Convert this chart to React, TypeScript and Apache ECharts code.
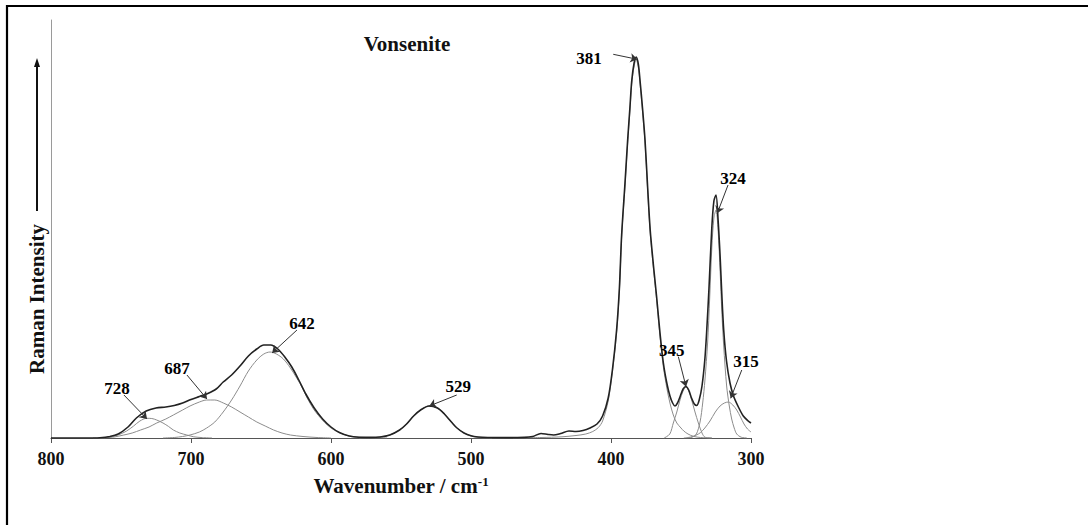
import React, { useEffect, useRef } from "react";
import * as echarts from "echarts";

const FONT = '"Liberation Serif", "Times New Roman", serif';

// x: wavenumber / cm-1, y: intensity (arbitrary units)
const envelope: [number, number][] = [
  [800, 0], [775, 0], [765, 0.3], [758, 1.5], [752, 4], [745, 11], [739, 20], [732, 27], [725, 30], [718, 31],
  [712, 32.5], [706, 35], [700, 38.5], [694, 41.5], [688, 44.5], [682, 49], [677, 56], [671, 63], [665, 72],
  [659, 82], [653, 89], [648, 93], [643, 93], [638, 89], [633, 81], [628, 71], [623, 58], [618, 44], [612, 30],
  [606, 19], [600, 11], [594, 5.5], [587, 2], [580, 0.8], [572, 0.6], [565, 1], [558, 3], [551, 8], [546, 14],
  [541, 22], [536, 28], [530, 32], [524, 30], [519, 24], [514, 16], [510, 10], [505, 5], [500, 2.2], [495, 1],
  [488, 0.5], [475, 0.4], [462, 0.6], [456, 1.5], [450, 4.5], [445, 3.5], [441, 3], [436, 4.5], [430, 7],
  [425, 6.5], [420, 7.5], [415, 10], [410, 14], [406, 22], [402, 40], [399, 68], [396, 108], [394, 150],
  [392.4, 203], [390, 255], [388.1, 298], [386.5, 330], [385.2, 357], [383.5, 375], [382, 381], [380.5, 374],
  [379.3, 358], [377.5, 330], [375.7, 298], [373.8, 250], [372, 208], [369.5, 170], [367.4, 141], [365, 105],
  [362.6, 75], [360, 54], [357.9, 42], [356, 35], [354.3, 32], [352.5, 35], [350.5, 42], [348.5, 49],
  [346.5, 51.5], [344.5, 48], [342.5, 40], [340.5, 34], [338.8, 32.5], [337, 38], [335, 52], [333, 78],
  [331.6, 108], [330, 150], [328, 210], [326.5, 237], [325, 243], [323.5, 218], [322, 180], [320.9, 145],
  [319.5, 108], [317.5, 77], [315, 55], [312.5, 42], [309, 31], [305.5, 22], [302, 17], [300, 15],
];

const band728: [number, number][] = [
  [770, 0], [760, 0.5], [752, 3], [746, 7], [741, 12], [736.5, 17], [731.7, 19.7], [728, 19.5], [724.5, 18],
  [720, 15], [716, 11.5], [712.6, 8], [708, 5], [703, 3], [698, 1.2], [692, 0.4], [685, 0],
];
const band687: [number, number][] = [
  [765, 0], [755, 1], [748, 3], [742, 5], [736, 8], [730, 11], [724.5, 15], [718, 19], [712.6, 23], [706, 28],
  [700.7, 32], [694, 36], [688.8, 38], [683, 38], [676.9, 35], [671, 31], [665, 26], [659, 21], [653, 16],
  [647, 12], [641, 8], [635, 5], [629, 3], [620, 1.5], [610, 0.5], [600, 0],
];
const band642: [number, number][] = [
  [720, 0], [712, 0.5], [706, 1.5], [700.7, 3], [694, 6], [688.8, 10], [683, 16], [677, 26], [671, 38],
  [665, 52], [659, 67], [653, 78], [648, 84], [643.6, 86], [639, 84], [634, 79], [629, 70], [624.5, 60],
  [620, 49], [617.4, 41], [612, 28], [605.5, 17], [600, 10], [593.6, 5], [587, 2], [580, 0.8], [570, 0.3], [560, 0],
];
const band529: [number, number][] = [
  [580, 0], [570, 0.3], [565, 1], [558, 3], [551, 8], [546, 14], [541, 22], [536, 28], [530, 32], [524, 30],
  [519, 24], [514, 16], [510, 10], [505, 5], [500, 2], [493, 0.5], [485, 0],
];
const band381: [number, number][] = [
  [470, 0], [450, 0.5], [435, 1.2], [425, 2.5], [418, 4], [413, 6.5], [409, 10.5], [406, 17], [402, 37],
  [399, 66], [396, 105], [394, 147], [392.4, 201], [390, 252], [388.1, 295], [386.5, 327], [385.2, 354],
  [383.5, 372], [382, 378], [380.5, 371], [379.3, 355], [377.5, 327], [375.7, 295], [373.8, 247], [372, 205],
  [369.5, 167], [367.4, 138], [365, 101], [362.6, 71], [360, 49], [357.9, 35], [355.5, 23], [353, 15],
  [350, 10], [348, 7], [345, 4], [341, 1.6], [336, 0.5], [328, 0],
];
const band345: [number, number][] = [
  [362, 0], [358, 4], [355.5, 15], [353, 26], [350.7, 38], [348.5, 47], [346.4, 51], [344.5, 47], [342.4, 38],
  [340, 26], [337.6, 15], [335, 5], [332.9, 0.8], [328, 0],
];
const band324: [number, number][] = [
  [346, 0], [342, 0.8], [339, 4], [336.4, 16], [334.5, 35], [332.9, 58], [331, 95], [329.5, 140], [328, 190],
  [326.5, 220], [325, 228], [323.5, 208], [322, 165], [320.9, 128], [319.5, 92], [317.4, 52], [315.5, 32],
  [313.8, 19], [312, 10], [310.2, 4], [307, 0.8], [303, 0],
];
const band315: [number, number][] = [
  [348, 0], [343, 1], [339, 3], [336, 5.5], [333, 10], [329.3, 17], [325.5, 26], [322.1, 32], [319, 35],
  [316.2, 36], [313, 33], [310.2, 28], [307.5, 21], [305, 14], [302.5, 9], [300, 6],
];

const peakNames = ["728", "687", "642", "529", "381", "345", "324", "315"];
// label anchor (wavenumber, intensity)
const labelWn = [752.9, 710, 620.7, 509.1, 415.7, 356.6, 312.9, 303.6];
const labelVal = [50, 70, 115, 51.3, 380, 88, 260, 76.3];
// arrow start (wn, val) -> arrow end (wn, val)
const arrowFrom: [number, number][] = [
  [747.9, 43], [702.9, 63], [624.3, 108], [510.2, 43], [398.4, 383.7], [351.9, 81.3], [316.4, 253], [306.6, 68],
];
const arrowTo: [number, number][] = [
  [731.4, 19], [688.6, 39], [642.1, 85], [529.8, 32], [381.2, 378.7], [346.4, 51.3], [324.1, 224.7], [314.5, 39.7],
];

const components = [
  { name: "728", data: band728 },
  { name: "687", data: band687 },
  { name: "642", data: band642 },
  { name: "529", data: band529 },
  { name: "381", data: band381 },
  { name: "345", data: band345 },
  { name: "324", data: band324 },
  { name: "315", data: band315 },
];

export default function App() {
  const ref = useRef<HTMLDivElement>(null);
  useEffect(() => {
    const chart = echarts.init(ref.current!, null, { renderer: "svg" });
    const compSeries = components.map((c) => ({
      type: "line",
      name: "band " + c.name,
      data: c.data,
      smooth: 0.3,
      symbol: "none",
      silent: true,
      lineStyle: { color: "#8c8c8c", width: 1 },
      z: 2,
    }));
    chart.setOption({
      animation: false,
      backgroundColor: "#ffffff",
      grid: { left: 51, right: 337, top: 20, bottom: 87, containLabel: false },
      xAxis: {
        type: "value",
        min: 300,
        max: 800,
        interval: 100,
        inverse: true,
        axisLine: { show: true, onZero: false, lineStyle: { color: "#555", width: 1.2 } },
        axisTick: { show: true, length: 5, lineStyle: { color: "#555" } },
        axisLabel: { fontFamily: FONT, fontWeight: "bold", fontSize: 18, color: "#111", margin: 12 },
        splitLine: { show: false },
        name: "{a|Wavenumber / cm}{s|-1}",
        nameLocation: "middle",
        nameGap: 37,
        nameTextStyle: {
          rich: {
            a: { fontFamily: FONT, fontWeight: "bold", fontSize: 21, color: "#111" },
            s: { fontFamily: FONT, fontWeight: "bold", fontSize: 13, color: "#111", verticalAlign: "top" },
          },
        },
      },
      yAxis: {
        type: "value",
        min: 0,
        max: 418,
        axisLine: { show: true, lineStyle: { color: "#9a9a9a", width: 1 } },
        axisTick: { show: false },
        axisLabel: { show: false },
        splitLine: { show: false },
      },
      graphic: [
        {
          type: "rect",
          shape: { x: 7, y: 6, width: 1100, height: 540 },
          style: { fill: "none", stroke: "#000", lineWidth: 2.2 },
          silent: true,
        },
        {
          type: "line",
          shape: { x1: 37, y1: 211, x2: 37, y2: 65 },
          style: { stroke: "#111", lineWidth: 2 },
        },
        {
          type: "polygon",
          shape: { points: [[37, 58], [34, 67], [40, 67]] },
          style: { fill: "#111" },
        },
        {
          type: "text",
          x: 36.5,
          y: 299,
          rotation: Math.PI / 2,
          style: {
            text: "Raman Intensity",
            fontFamily: FONT,
            fontWeight: "bold",
            fontSize: 21,
            fill: "#111",
            align: "center",
            verticalAlign: "middle",
          },
        },
        {
          type: "text",
          x: 407,
          y: 44,
          style: {
            text: "Vonsenite",
            fontFamily: FONT,
            fontWeight: "bold",
            fontSize: 21,
            fill: "#111",
            align: "center",
            verticalAlign: "middle",
          },
        },
      ],
      series: [
        ...compSeries,
        {
          type: "line",
          name: "envelope",
          data: envelope,
          smooth: 0.3,
          symbol: "none",
          silent: true,
          lineStyle: { color: "#222", width: 1.6 },
          z: 3,
        },
        {
          type: "lines",
          coordinateSystem: "cartesian2d",
          data: arrowFrom.map((f, i) => ({ coords: [f, arrowTo[i]] })),
          symbol: ["none", "arrow"],
          symbolSize: [0, 7],
          silent: true,
          lineStyle: { color: "#333", width: 1, opacity: 1, curveness: 0 },
          z: 5,
        },
        {
          type: "scatter",
          data: peakNames.map((n, i) => ({ name: n, value: [labelWn[i], labelVal[i]] })),
          symbolSize: 1,
          itemStyle: { color: "#fff", opacity: 1 },
          silent: true,
          label: {
            show: true,
            position: "inside",
            formatter: "{b}",
            fontFamily: FONT,
            fontWeight: "bold",
            fontSize: 17,
            color: "#000",
            textBorderWidth: 0,
            textBorderColor: "transparent",
            opacity: 1,
          },
          z: 6,
        },
      ],
    });
    return () => chart.dispose();
  }, []);
  return (
    <div
      ref={ref}
      style={{ position: "absolute", left: 0, top: 0, width: 1088, height: 525, background: "#fff" }}
    />
  );
}
